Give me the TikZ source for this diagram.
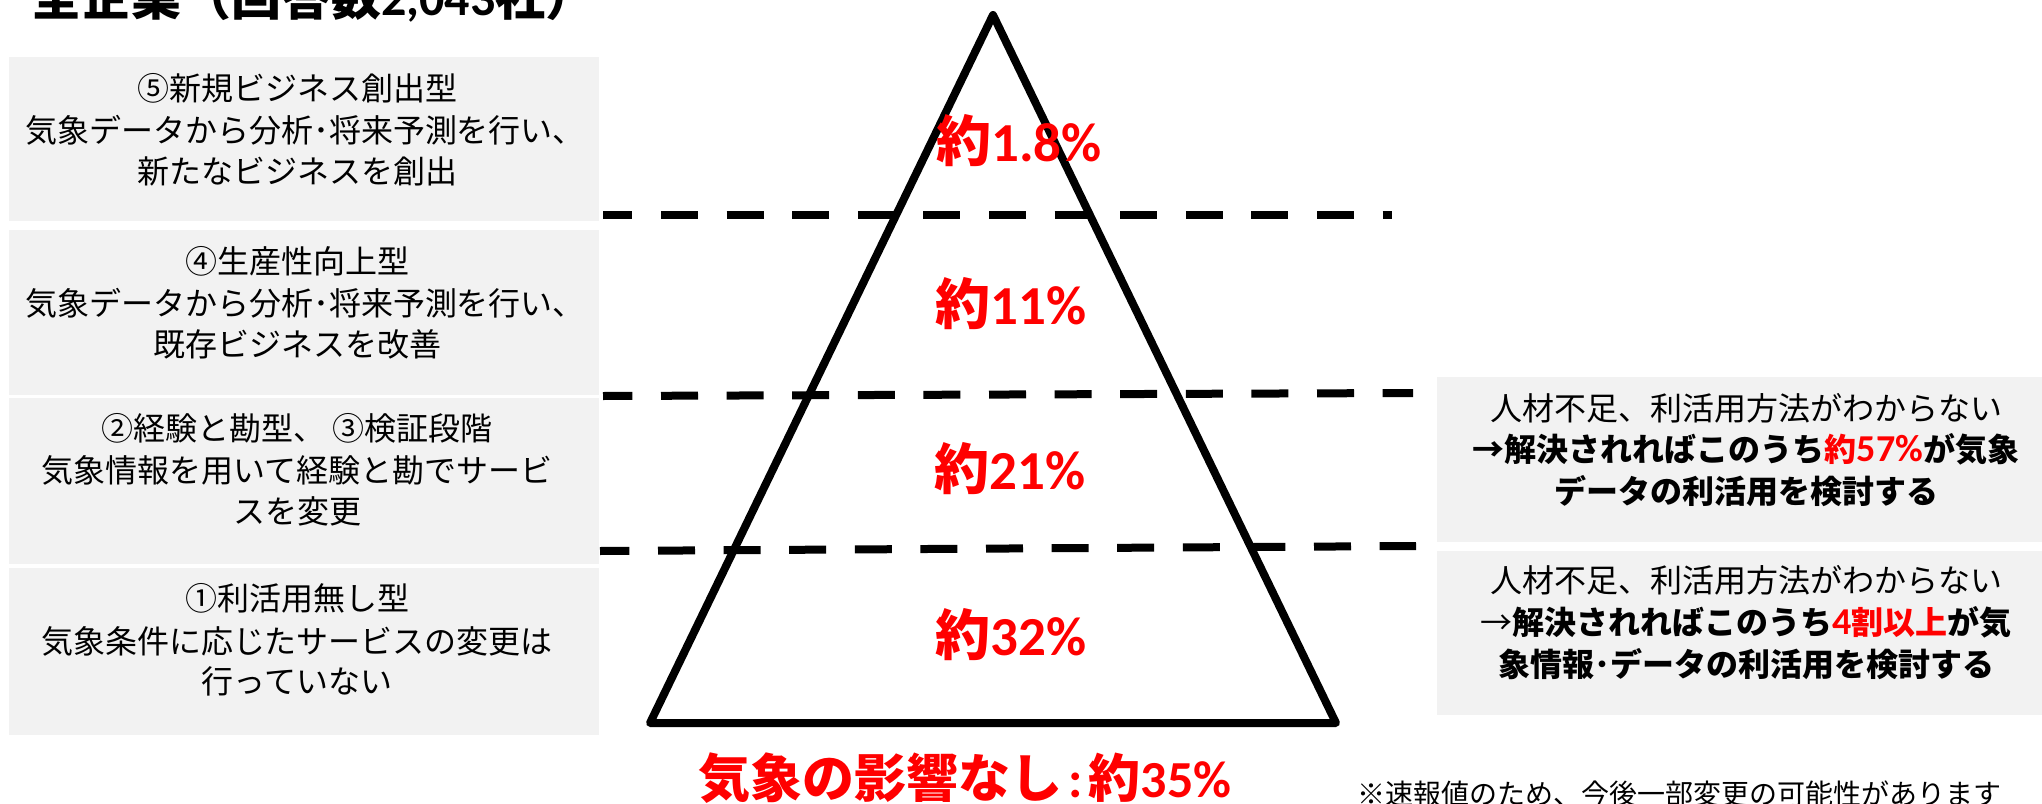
\documentclass[tikz,border=0pt]{standalone}
\usepackage{fontspec}
\setmainfont{Noto Sans CJK JP}
\newfontfamily\carl{Carlito}
\newcommand{\bignum}[1]{{\carl\fontsize{38}{40}\selectfont #1}}
\definecolor{boxgray}{HTML}{F2F2F2}
\definecolor{pctred}{HTML}{FF0000}
\begin{document}
\begin{tikzpicture}[x=1pt,y=-1pt,
  graybox/.style={fill=boxgray,draw=none},
  bodytxt/.style={font=\fontsize{32}{40}\selectfont,text=black,inner sep=0pt,anchor=base},
  boldtxt/.style={font=\fontsize{32}{40}\selectfont\bfseries,text=black,inner sep=0pt,anchor=base},
  pct/.style={font=\fontsize{55}{60}\selectfont\bfseries,text=pctred,inner sep=0pt,anchor=base},
  dashline/.style={line width=8pt,dash pattern=on 37pt off 28.6pt},
  tri/.style={line width=8pt,line join=round}]
\useasboundingbox (0,0) rectangle (2042,803);
\clip (0,0) rectangle (2042,803);

% title (cut by the top edge, as in the reference)
\node[font=\fontsize{50}{55}\selectfont\bfseries,anchor=base west,inner sep=0pt] (title) at (31,15) {全企業（回答数{\carl 2,043}社）};

% left boxes
\path[graybox] (9,57) rectangle (599,221);
\path[graybox] (9,230) rectangle (599,395);
\path[graybox] (9,398) rectangle (599,564);
\path[graybox] (9,568) rectangle (599,735);

\node[bodytxt] (b5a) at (297,100) {⑤新規ビジネス創出型};
\node[bodytxt] (b5b) at (305,142) {気象データから分析･将来予測を行い、};
\node[bodytxt] (b5c) at (297,183) {新たなビジネスを創出};

\node[bodytxt] (b4a) at (297,273) {④生産性向上型};
\node[bodytxt] (b4b) at (305,315) {気象データから分析･将来予測を行い、};
\node[bodytxt] (b4c) at (297,356) {既存ビジネスを改善};

\node[bodytxt] (b3a) at (297,440) {②経験と勘型、 ③検証段階};
\node[bodytxt] (b3b) at (297,482) {気象情報を用いて経験と勘でサービ};
\node[bodytxt] (b3c) at (297,523) {スを変更};

\node[bodytxt] (b1a) at (297,610) {①利活用無し型};
\node[bodytxt] (b1b) at (297,653) {気象条件に応じたサービスの変更は};
\node[bodytxt] (b1c) at (297,693) {行っていない};

% right boxes
\path[graybox] (1437,377) rectangle (2060,542);
\path[graybox] (1437,551) rectangle (2060,715);

\node[bodytxt] (raa) at (1746,420) {人材不足、利活用方法がわからない};
\node[boldtxt] (rab) at (1746,461) {→解決されればこのうち{\color{pctred}約\bignum{57\%}}が気象};
\node[boldtxt] (rac) at (1746,503) {データの利活用を検討する};

\node[bodytxt] (rba) at (1746,592) {人材不足、利活用方法がわからない};
\node[boldtxt] (rbb) at (1746,634) {{\mdseries →}解決されればこのうち{\color{pctred}\bignum{4}割以上}が気};
\node[boldtxt] (rbc) at (1746,676) {象情報･データの利活用を検討する};

% dashed separators
\coordinate (d1a) at (603,215); \coordinate (d1b) at (1392,215);
\coordinate (d2a) at (603,396); \coordinate (d2b) at (1413,393);
\coordinate (d3a) at (600,551); \coordinate (d3b) at (1416,546);
\draw[dashline,dash phase=7.6pt] (d1a) -- (d1b);
\draw[dashline,dash phase=7.6pt] (d2a) -- (d2b);
\draw[dashline,dash phase=7.6pt] (d3a) -- (d3b);

% pyramid
\coordinate (apex) at (993,15);
\coordinate (bl) at (650,723);
\coordinate (br) at (1336,723);
\draw[tri] (apex) -- (bl) -- (br) -- cycle;

% percentages
\node[pct] (p5) at (1019,161) {約{\carl 1.8\%}};
\node[pct] (p4) at (1011,324) {約{\carl 11\%}};
\node[pct] (p3) at (1010,489) {約{\carl 21\%}};
\node[pct] (p1) at (1011,655) {約{\carl 32\%}};
\node[pct,font=\fontsize{52}{58}\selectfont\bfseries] (p0) at (965,797) {気象の影響なし\hspace{6pt}{\carl :}\hspace{6pt}約{\carl 35\%}};

% footnote (cut by the bottom edge, as in the reference)
\node[font=\fontsize{28}{32}\selectfont,anchor=base west,inner sep=0pt] (note) at (1357,804) {※速報値のため、今後一部変更の可能性があります};
\end{tikzpicture}
\end{document}
